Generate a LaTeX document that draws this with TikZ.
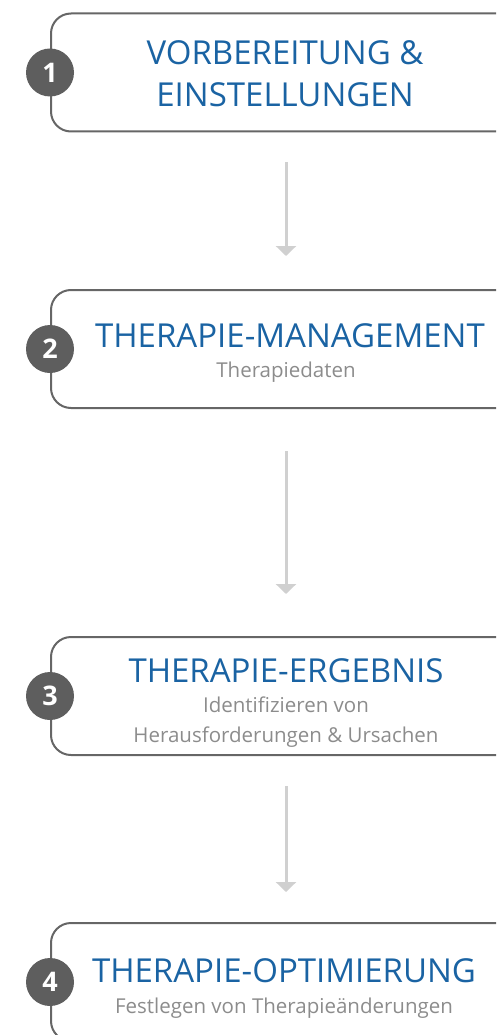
\documentclass[tikz,border=0pt]{standalone}
\usepackage{fontspec}
\setmainfont{Open Sans}
\usetikzlibrary{arrows.meta}
\definecolor{stepblue}{HTML}{1A63A3}
\definecolor{subgrey}{HTML}{8C8C8C}
\definecolor{framegrey}{HTML}{666666}
\definecolor{numgrey}{HTML}{5E5E5E}
\definecolor{arrowgrey}{HTML}{D0D0D0}

\begin{document}
\begin{tikzpicture}
			[x=1pt,y=-1pt,
			box/.style={draw=framegrey,line width=2pt,rounded corners=20pt,minimum width=470pt,minimum height=118pt,inner sep=0pt},
			num/.style={circle,fill=numgrey,text=white,minimum size=48pt,inner sep=0pt,font=\fontsize{27}{27}\selectfont\bfseries},
			head/.style={text=stepblue,anchor=base,inner sep=0pt,font=\fontsize{33}{33}\selectfont},
			sub/.style={text=subgrey,anchor=base,inner sep=0pt,font=\fontsize{20.5}{20.5}\selectfont},
			flow/.style={draw=arrowgrey,line width=3pt,-{Triangle[width=20pt,length=10pt]}}]
			\useasboundingbox (0,0) rectangle (496,1035);
			\clip (0,0) rectangle (496,1035);
			% the four steps
			\node[box] (box1) at (286,72.5) {};
			\node[box] (box2) at (286,349) {};
			\node[box] (box3) at (286,696) {};
			\node[box] (box4) at (286,982) {};
			\node[num] (num1) at (box1.west) {1};
			\node[num] (num2) at (box2.west) {2};
			\node[num] (num3) at (box3.west) {3};
			\node[num] (num4) at (box4.west) {4};
			% texts
			\node[head] (head1a) at (285,65) {VORBEREITUNG \&};
			\node[head] (head1b) at (285,107) {EINSTELLUNGEN};
			\node[head] (head2) at (290,347) {THERAPIE-MANAGEMENT};
			\node[sub] (sub2) at (286,377) {Therapiedaten};
			\node[head] (head3) at (286,682) {THERAPIE-ERGEBNIS};
			\node[sub] (sub3a) at (286,712) {Identifizieren von};
			\node[sub] (sub3b) at (286,742) {Herausforderungen \& Ursachen};
			\node[head] (head4) at (284,982) {THERAPIE-OPTIMIERUNG};
			\node[sub] (sub4) at (284,1013) {Festlegen von Therapieänderungen};
			% arrows
			\draw[flow,shorten <=30pt,shorten >=33pt] (box1.south) -- (box2.north);
			\draw[flow,shorten <=42pt,shorten >=42pt] (box2.south) -- (box3.north);
			\draw[flow,shorten <=30pt,shorten >=30pt] (box3.south) -- (box4.north);
\end{tikzpicture}
\end{document}
